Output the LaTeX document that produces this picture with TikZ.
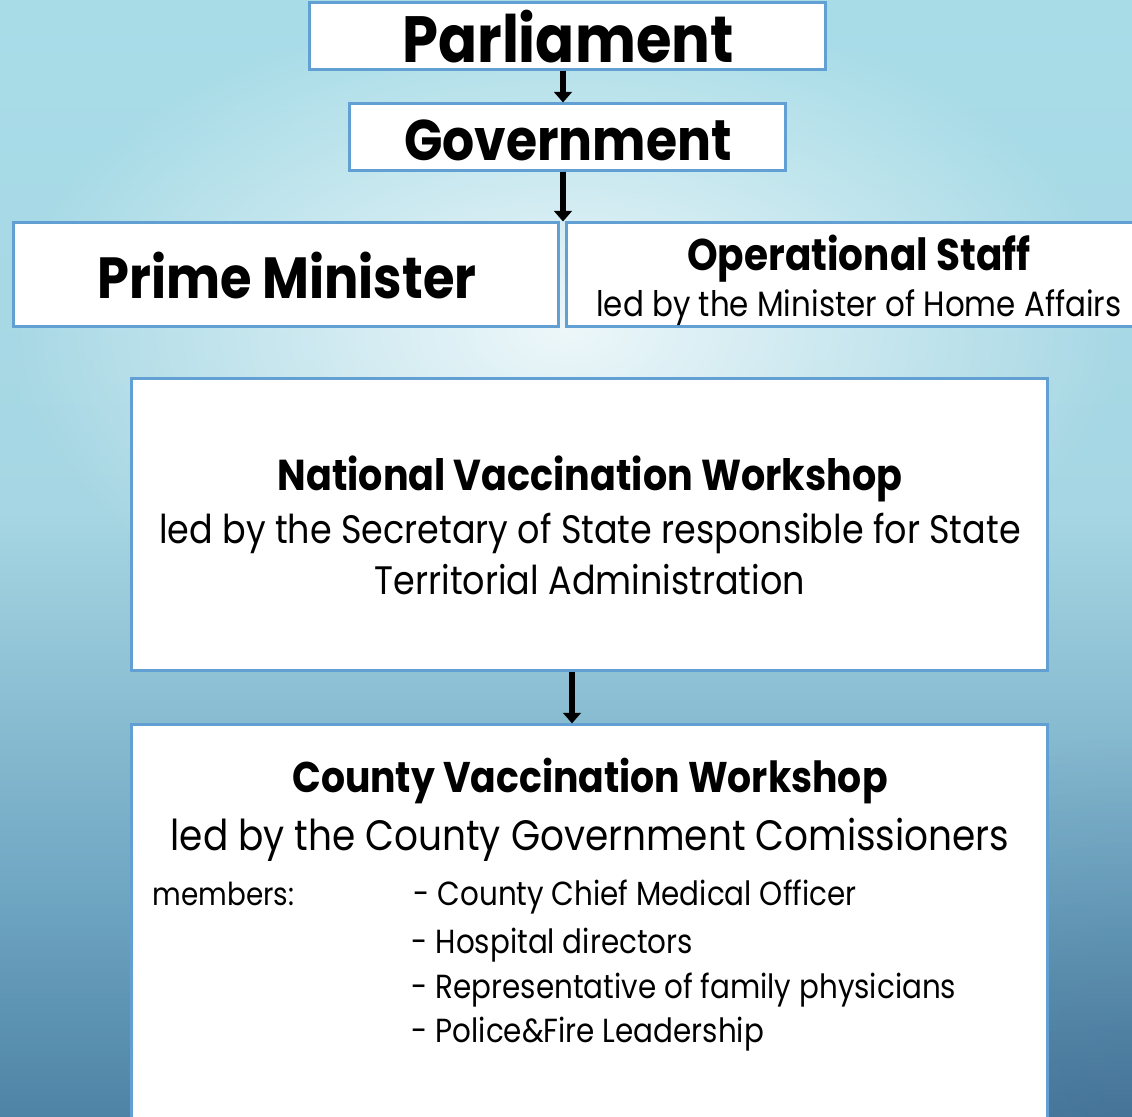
\documentclass[tikz,border=0pt]{standalone}
\usepackage{fontspec}
\setmainfont{Poppins}[FakeStretch=0.88]
\usetikzlibrary{arrows.meta,fadings}
\pgfdeclarelayer{bg}
\pgfsetlayers{bg,main}
\definecolor{boxblue}{HTML}{629FD2}
\definecolor{bgtop}{HTML}{A8DDE8}
\definecolor{bgmid}{HTML}{A6D6E3}
\definecolor{bglow}{HTML}{6FA6C2}
\definecolor{bgbot}{HTML}{4E83A5}
\definecolor{bgdark}{HTML}{2F4F78}
\pgfdeclareverticalshading{slidebg}{100bp}{color(0bp)=(bgbot); color(25bp)=(bgbot); color(35bp)=(bglow); color(52bp)=(bgmid); color(75bp)=(bgtop); color(100bp)=(bgtop)}
\tikzfading[name=glow, inner color=transparent!0, outer color=transparent!100]

\begin{document}
\begin{tikzpicture}[x=0.01cm, y=-0.01cm,
        box/.style={draw=boxblue, line width=0.85pt, fill=white, inner sep=0pt},
        txt/.style={inner sep=0pt, anchor=base},
        big/.style={txt, font=\bfseries\fontsize{16.5}{20}\selectfont},
        head/.style={txt, font=\bfseries\fontsize{12.3}{15}\selectfont},
        sub/.style={txt, font=\fontsize{11.3}{13}\selectfont},
        item/.style={inner sep=0pt, anchor=base west, font=\fontsize{9.5}{11}\selectfont},
        arr/.style={line width=1.5pt, -{Triangle[width=5pt,length=3pt]}}]
        \useasboundingbox (0,0) rectangle (1132,1117);
        \clip (0,0) rectangle (1132,1117);
        \begin{pgfonlayer}{bg}
                \shade[shading=slidebg] (0,0) rectangle (1132,1117);
                \fill[white, opacity=0.8, path fading=glow] (565,330) ellipse (560 and 330);
                \fill[bgdark, opacity=0.3, path fading=glow] (1132,1117) ellipse (420 and 380);
        \end{pgfonlayer}
        \node (parl) [box, minimum width=5.15cm, minimum height=0.66cm] at (567.5,36) {};
        \node (gov) [box, minimum width=4.35cm, minimum height=0.66cm] at (567.5,137) {};
        \node (pm) [box, minimum width=5.44cm, minimum height=1.03cm] at (286,274.5) {};
        \node (ops) [box, minimum width=5.83cm, minimum height=1.03cm] at (858.5,274.5) {};
        \node (nat) [box, minimum width=9.15cm, minimum height=2.91cm] at (589.5,524.5) {};
        \node (cty) [box, minimum width=9.15cm, minimum height=4.15cm] at (589.5,932.5) {};
        \node (tparl) [big, font=\bfseries\fontsize{18.6}{22}\selectfont] at (568,62) {Parliament};
        \node (tgov) [big, font=\bfseries\fontsize{16.3}{20}\selectfont] at (568,160) {Government};
        \node (tpm) [big] at (287,298) {Prime Minister};
        \node (tops) [head, font=\bfseries\fontsize{12.6}{15}\selectfont] at (859,270) {Operational Staff};
        \node (tops2) [sub, font=\fontsize{10}{12}\selectfont] at (859,316) {led by the Minister of Home Affairs};
        \node (tnat) [head] at (590,490) {National Vaccination Workshop};
        \node (tnat2) [sub] at (590,543) {led by the Secretary of State responsible for State};
        \node (tnat3) [sub] at (590,594) {Territorial Administration};
        \node (tcty) [head, font=\bfseries\fontsize{12.2}{15}\selectfont] at (590,792) {County Vaccination Workshop};
        \node (tcty2) [sub, font=\fontsize{12.1}{14}\selectfont] at (590,850) {led by the County Government Comissioners};
        \node (mem) [item, font=\fontsize{9}{11}\selectfont] at (152,905) {members:};
        \node (m1) [item] at (413,905) {- County Chief Medical Officer};
        \node (m2) [item] at (411,953) {- Hospital directors};
        \node (m3) [item] at (411,998) {- Representative of family physicians};
        \node (m4) [item] at (411,1042) {- Police\&Fire Leadership};
        \coordinate (a1) at (563,0);
        \coordinate (a3) at (572,0);
        \draw[arr] (parl.south -| a1) -- (gov.north -| a1);
        \draw[arr] (gov.south -| a1) -- (pm.north -| a1);
        \draw[arr] (nat.south -| a3) -- (cty.north -| a3);
\end{tikzpicture}
\end{document}
